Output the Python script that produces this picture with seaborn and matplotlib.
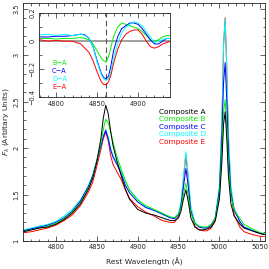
import matplotlib
matplotlib.use("Agg")
import matplotlib.pyplot as plt
import pandas as pd
import seaborn as sns
from matplotlib.ticker import MultipleLocator, FuncFormatter

# wavelength grid (rest frame, Angstrom) of the composite spectra
wave = [4760, 4770, 4780, 4790, 4800, 4810, 4820, 4830, 4840, 4845,
        4850, 4855, 4858, 4861, 4864, 4867, 4870, 4875, 4880, 4885,
        4890, 4900, 4910, 4920, 4930, 4940, 4945, 4950, 4953, 4956,
        4959, 4962, 4965, 4970, 4975, 4980, 4985, 4990, 4995, 5000,
        5003, 5005, 5007, 5009, 5011, 5014, 5018, 5025, 5030, 5040,
        5050, 5055]

comp_a = [1.10, 1.12, 1.14, 1.15, 1.18, 1.23, 1.30, 1.40, 1.56, 1.67,
          1.85, 2.10, 2.32, 2.46, 2.37, 2.18, 2.02, 1.85, 1.70, 1.56,
          1.45, 1.34, 1.30, 1.28, 1.25, 1.22, 1.22, 1.25, 1.32, 1.45,
          1.55, 1.42, 1.25, 1.15, 1.12, 1.12, 1.13, 1.15, 1.22, 1.45,
          1.85, 2.25, 2.39, 2.10, 1.70, 1.40, 1.27, 1.18, 1.14, 1.11,
          1.08, 1.07]
comp_b = [1.10, 1.12, 1.14, 1.16, 1.19, 1.24, 1.31, 1.41, 1.57, 1.68,
          1.86, 2.05, 2.20, 2.31, 2.27, 2.18, 2.06, 1.90, 1.77, 1.65,
          1.55, 1.44, 1.38, 1.34, 1.30, 1.26, 1.25, 1.29, 1.36, 1.50,
          1.62, 1.48, 1.30, 1.19, 1.16, 1.15, 1.15, 1.18, 1.25, 1.50,
          1.95, 2.38, 2.52, 2.22, 1.80, 1.48, 1.34, 1.24, 1.18, 1.13,
          1.09, 1.08]
comp_c = [1.11, 1.13, 1.15, 1.17, 1.20, 1.25, 1.32, 1.43, 1.59, 1.70,
          1.86, 2.02, 2.12, 2.19, 2.10, 1.98, 1.90, 1.82, 1.72, 1.60,
          1.52, 1.42, 1.36, 1.33, 1.29, 1.25, 1.24, 1.28, 1.38, 1.58,
          1.78, 1.58, 1.32, 1.19, 1.15, 1.14, 1.14, 1.17, 1.25, 1.55,
          2.10, 2.70, 2.92, 2.50, 1.95, 1.52, 1.33, 1.21, 1.15, 1.11,
          1.08, 1.07]
comp_d = [1.12, 1.14, 1.16, 1.18, 1.21, 1.27, 1.34, 1.44, 1.60, 1.71,
          1.86, 2.02, 2.13, 2.20, 2.12, 2.00, 1.92, 1.84, 1.75, 1.64,
          1.55, 1.45, 1.37, 1.33, 1.29, 1.25, 1.25, 1.30, 1.42, 1.70,
          1.96, 1.70, 1.38, 1.20, 1.16, 1.15, 1.14, 1.17, 1.26, 1.60,
          2.30, 3.10, 3.39, 2.85, 2.15, 1.60, 1.35, 1.21, 1.15, 1.12,
          1.08, 1.07]
comp_e = [1.09, 1.10, 1.12, 1.14, 1.17, 1.22, 1.28, 1.38, 1.53, 1.63,
          1.80, 1.98, 2.10, 2.17, 2.08, 1.92, 1.82, 1.74, 1.66, 1.55,
          1.46, 1.37, 1.31, 1.27, 1.22, 1.20, 1.20, 1.26, 1.38, 1.66,
          1.93, 1.66, 1.33, 1.16, 1.12, 1.11, 1.11, 1.14, 1.22, 1.55,
          2.25, 3.10, 3.40, 2.85, 2.10, 1.52, 1.28, 1.15, 1.10, 1.07,
          1.05, 1.05]

# difference spectra around H-beta (inset)
wave_diff = [4780, 4790, 4800, 4810, 4820, 4830, 4835, 4840, 4845, 4850,
             4855, 4858, 4861, 4864, 4867, 4870, 4875, 4880, 4885, 4890,
             4895, 4900, 4905, 4910, 4915, 4920, 4925, 4930, 4935, 4940]
diff_ba = [0.02, 0.02, 0.015, 0.02, 0.02, 0.025, 0.02, 0.01, -0.02, -0.07,
           -0.12, -0.14, -0.15, -0.11, -0.04, 0.03, 0.10, 0.13, 0.12, 0.11,
           0.10, 0.09, 0.07, 0.04, 0.01, 0.00, 0.01, 0.03, 0.04, 0.04]
diff_ca = [0.03, 0.03, 0.035, 0.035, 0.04, 0.05, 0.045, 0.02, -0.04, -0.14,
           -0.23, -0.26, -0.27, -0.25, -0.17, -0.07, 0.03, 0.09, 0.11, 0.13,
           0.13, 0.12, 0.09, 0.05, 0.01, -0.02, -0.02, 0.00, 0.02, 0.02]
diff_da = [0.045, 0.05, 0.04, 0.05, 0.04, 0.05, 0.04, 0.02, -0.04, -0.15,
           -0.24, -0.27, -0.28, -0.27, -0.21, -0.12, -0.02, 0.06, 0.10, 0.12,
           0.14, 0.13, 0.11, 0.07, 0.03, -0.01, 0.00, 0.01, 0.02, 0.02]
diff_ea = [0.01, 0.00, 0.005, 0.00, 0.00, -0.02, -0.05, -0.08, -0.14, -0.22,
           -0.29, -0.31, -0.31, -0.29, -0.24, -0.16, -0.06, 0.01, 0.05, 0.07,
           0.08, 0.08, 0.05, 0.00, -0.04, -0.05, -0.04, -0.02, -0.01, 0.00]

comp_names = ["Composite A", "Composite B", "Composite C", "Composite D", "Composite E"]
diff_names = ["B\u2212A", "C\u2212A", "D\u2212A", "E\u2212A"]
hbeta = 4861.3

colors = {"A": "#000000", "B": "#00ee00", "C": "#0000ff", "D": "#00ffff", "E": "#ff0000"}

sns.set_style("ticks")
plt.rcParams["font.family"] = ["DejaVu Sans"]
plt.rcParams["font.size"] = 5.0
plt.rcParams["mathtext.fontset"] = "dejavusans"

spec = pd.DataFrame({"wave": wave * 5,
                     "flux": comp_a + comp_b + comp_c + comp_d + comp_e,
                     "name": [n for n in comp_names for _ in wave]})
diff = pd.DataFrame({"wave": wave_diff * 4,
                     "flux": diff_ba + diff_ca + diff_da + diff_ea,
                     "name": [n for n in diff_names for _ in wave_diff]})

comp_pal = {n: colors[n[-1]] for n in comp_names}
diff_pal = {n: colors[n[0]] for n in diff_names}

fmt = FuncFormatter(lambda v, p: f"{v:g}".replace("-", "\u2212"))


def style_axis(ax, xmaj, xmin, ymaj, ymin):
    ax.xaxis.set_major_locator(MultipleLocator(xmaj))
    ax.xaxis.set_minor_locator(MultipleLocator(xmin))
    ax.yaxis.set_major_locator(MultipleLocator(ymaj))
    ax.yaxis.set_minor_locator(MultipleLocator(ymin))
    ax.yaxis.set_major_formatter(fmt)
    ax.tick_params(which="both", direction="in", top=True, right=True,
                   width=0.5, pad=2.5, labelsize=4.8)
    ax.tick_params(which="major", length=3.5)
    ax.tick_params(which="minor", length=1.8)
    for lab in ax.get_yticklabels():
        lab.set_rotation(90)
        lab.set_va("center")
    for s in ax.spines.values():
        s.set_linewidth(0.6)


fig = plt.figure(figsize=(2.69, 2.69), dpi=100)
ax = fig.add_axes([0.086, 0.104, 0.900, 0.885])
sns.lineplot(data=spec, x="wave", y="flux", hue="name", palette=comp_pal,
             hue_order=comp_names[::-1], linewidth=0.7, legend=False, ax=ax,
             sort=False)
ax.set_xlim(4760, 5056)
ax.set_ylim(1.0, 3.56)
style_axis(ax, 50, 10, 0.5, 0.1)
ax.set_xlabel("Rest Wavelength (\u00c5)", fontsize=5.4, labelpad=5)
ax.set_ylabel(r"$F_\lambda$ (Arbitary Units)", fontsize=5.4, labelpad=2)

for i, n in enumerate(comp_names):
    ax.text(0.56, 0.544 - i * 0.032, n, color=comp_pal[n], fontsize=5.3,
            transform=ax.transAxes, va="center", ha="left")

# inset with the difference spectra
ins = fig.add_axes([0.145, 0.639, 0.487, 0.312])
ins.axhline(0, color="#999999", linewidth=1.3, zorder=1)
ins.axvline(hbeta, color="#555555", linewidth=0.8, linestyle=(0, (5, 3)), zorder=1)
sns.lineplot(data=diff, x="wave", y="flux", hue="name", palette=diff_pal,
             hue_order=diff_names, linewidth=0.7, legend=False, ax=ins,
             sort=False)
ins.set_xlim(4779, 4939)
ins.set_ylim(-0.4, 0.2)
style_axis(ins, 50, 10, 0.2, 0.1)
ins.set_xlabel("")
ins.set_ylabel("")

for i, n in enumerate(diff_names):
    ins.text(0.10, 0.41 - i * 0.098, n, color=diff_pal[n], fontsize=4.8,
             transform=ins.transAxes, va="center", ha="left")

fig.savefig("out.png", dpi=100)
